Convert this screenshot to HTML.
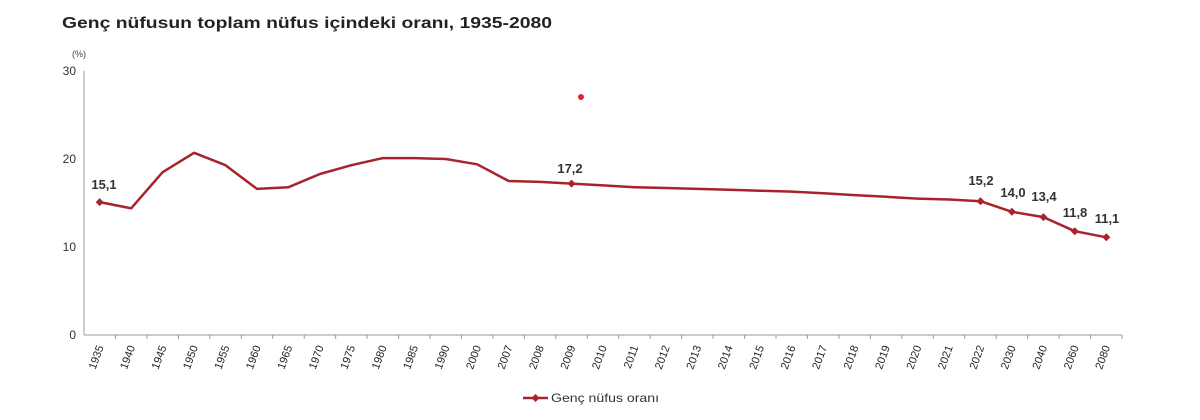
<!DOCTYPE html>
<html><head><meta charset="utf-8"><style>
body{margin:0;background:#fff;}
svg{display:block;font-family:"Liberation Sans",Arial,sans-serif;}
</style></head><body>
<svg width="1200" height="420" viewBox="0 0 1200 420" xmlns="http://www.w3.org/2000/svg">
<text x="62" y="28" font-size="16" font-weight="bold" fill="#222" textLength="490" lengthAdjust="spacingAndGlyphs">Genç nüfusun toplam nüfus içindeki oranı, 1935-2080</text>
<text x="72" y="57" font-size="9" fill="#444">(%)</text>
<g font-size="12" fill="#333" text-anchor="end">
<text x="76" y="75">30</text><text x="76" y="163">20</text><text x="76" y="251">10</text><text x="76" y="339">0</text>
</g>
<line x1="84" y1="71" x2="84" y2="335" stroke="#999"/>
<line x1="84" y1="335" x2="1122" y2="335" stroke="#999"/>
<g id="ax"></g>
<polyline id="ln" fill="none" stroke="#a8232b" stroke-width="2.5" stroke-linejoin="round"/>
<g id="mk"></g>
<circle cx="581" cy="97" r="3" fill="#e0262b"/>
<g font-size="13" font-weight="bold" fill="#333" text-anchor="middle">
<text x="104" y="189">15,1</text>
<text x="570" y="173">17,2</text>
<text x="981" y="185">15,2</text>
<text x="1013" y="197">14,0</text>
<text x="1044" y="201">13,4</text>
<text x="1075" y="217">11,8</text>
<text x="1107" y="223">11,1</text>
</g>
<line x1="523" y1="398" x2="548" y2="398" stroke="#a8232b" stroke-width="2.5"/>
<path d="M535.5 394 L539.5 398 L535.5 402 L531.5 398Z" fill="#a8232b"/>
<text x="551" y="402" font-size="12" fill="#333" textLength="108" lengthAdjust="spacingAndGlyphs">Genç nüfus oranı</text>
<script>
var yrs=["1935","1940","1945","1950","1955","1960","1965","1970","1975","1980","1985","1990","2000","2007","2008","2009","2010","2011","2012","2013","2014","2015","2016","2017","2018","2019","2020","2021","2022","2030","2040","2060","2080"];
var v=[15.1,14.4,18.5,20.7,19.3,16.6,16.8,18.3,19.3,20.1,20.1,20.0,19.4,17.5,17.4,17.2,17.0,16.8,16.7,16.6,16.5,16.4,16.3,16.1,15.9,15.7,15.5,15.4,15.2,14.0,13.4,11.8,11.1];
var mks=[0,15,28,29,30,31,32];
var ns="http://www.w3.org/2000/svg",w=1038/33,ax=document.getElementById("ax"),pts=[];
for(var i=0;i<33;i++){
 var x=84+w*(i+0.5),y=335-v[i]*8.8;pts.push(x.toFixed(1)+","+y.toFixed(1));
 var t=document.createElementNS(ns,"line");var tx=84+w*(i+1);
 t.setAttribute("x1",tx);t.setAttribute("x2",tx);t.setAttribute("y1",335);t.setAttribute("y2",339);t.setAttribute("stroke","#999");ax.appendChild(t);
 var l=document.createElementNS(ns,"text");l.setAttribute("font-size","11");l.setAttribute("fill","#222");l.setAttribute("text-anchor","end");
 l.setAttribute("transform","translate("+(x+4)+",347) rotate(-70)");l.textContent=yrs[i];ax.appendChild(l);
}
document.getElementById("ln").setAttribute("points",pts.join(" "));
var mk=document.getElementById("mk");
mks.forEach(function(i){var p=pts[i].split(",");var x=+p[0],y=+p[1];
 var d=document.createElementNS(ns,"path");d.setAttribute("d","M"+x+" "+(y-4)+" L"+(x+4)+" "+y+" L"+x+" "+(y+4)+" L"+(x-4)+" "+y+"Z");d.setAttribute("fill","#a8232b");mk.appendChild(d);});
</script>
</svg>
</body></html>
